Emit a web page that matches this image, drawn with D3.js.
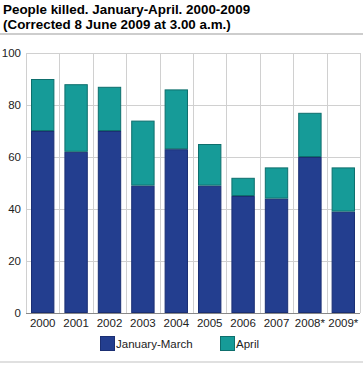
<!DOCTYPE html>
<html><head><meta charset="utf-8">
<script src="https://cdn.jsdelivr.net/npm/d3@7"></script>
<style>body{margin:0;background:#fff}svg{display:block;font-family:"Liberation Sans",Arial,sans-serif}</style>
</head><body><svg id="c" width="363" height="365"></svg>
<script>
const categories = ["2000","2001","2002","2003","2004","2005","2006","2007","2008*","2009*"];
const janMarch = [70,62,70,49,63,49,45,44,60,39];
const april = [20,26,17,25,23,16,7,12,17,17];
const yTicks = [0,20,40,60,80,100];
const seriesNames = ["January-March","April"];
const colors = ["#233e8f","#169b98"];
const strokes = ["#1b2f73","#0e6f6d"];

const svg = d3.select("#c");
const m = {l:26, r:3, t:53, b:52};
const W = 363, H = 365;
const x = d3.scaleBand().domain(categories).range([m.l, W-m.r]).paddingInner(0.3).paddingOuter(0.15);
const y = d3.scaleLinear().domain([0,100]).range([H-m.b, m.t]);

// title
svg.append("text").attr("x",3).attr("y",14).attr("font-size",13.4).attr("font-weight","bold").attr("fill","#000").text("People killed. January-April. 2000-2009");
svg.append("text").attr("x",3).attr("y",29).attr("font-size",13.4).attr("font-weight","bold").attr("fill","#000").text("(Corrected 8 June 2009 at 3.00 a.m.)");
svg.append("line").attr("x1",0).attr("x2",363).attr("y1",34).attr("y2",34).attr("stroke","#bdbdbd").attr("stroke-width",1.5);

// grid
const grid = svg.append("g");
yTicks.forEach(t=>{
  grid.append("line").attr("x1",m.l).attr("x2",W-m.r).attr("y1",Math.round(y(t))+0.5).attr("y2",Math.round(y(t))+0.5).attr("stroke","#d0d0d0");
});
for(let i=0;i<=categories.length;i++){
  const xx = Math.round(m.l + i*(W-m.r-m.l)/categories.length)+0.5;
  grid.append("line").attr("x1",xx).attr("x2",xx).attr("y1",m.t).attr("y2",H-m.b).attr("stroke","#d0d0d0");
}

// bars
const stackData = categories.map((c,i)=>({cat:c, a:janMarch[i], b:april[i]}));
const stack = d3.stack().keys(["a","b"])(stackData);
stack.forEach((s,si)=>{
  svg.append("g").selectAll("rect").data(s).join("rect")
    .attr("x",d=>x(d.data.cat)+0.5)
    .attr("width",x.bandwidth()-1)
    .attr("y",d=>y(d[1])+0.5)
    .attr("height",d=>y(d[0])-y(d[1])-1)
    .attr("fill",colors[si])
    .attr("stroke",strokes[si]).attr("stroke-width",1);
});

// axes
const yAxis = d3.axisLeft(y).tickValues(yTicks).tickSize(0).tickPadding(5);
const gy = svg.append("g").attr("transform",`translate(${m.l},0)`).call(yAxis);
gy.select(".domain").remove();
gy.selectAll("text").attr("font-size",11.5).attr("fill","#222").attr("font-family","'Liberation Sans',Arial,sans-serif");
const xAxis = d3.axisBottom(x).tickSize(0).tickPadding(6);
const gx = svg.append("g").attr("transform",`translate(0,${H-m.b})`).call(xAxis);
gx.select(".domain").remove();
gx.selectAll("text").attr("font-size",11.5).attr("fill","#222").attr("font-family","'Liberation Sans',Arial,sans-serif");
svg.append("line").attr("x1",m.l).attr("x2",W-m.r).attr("y1",H-m.b+0.5).attr("y2",H-m.b+0.5).attr("stroke","#888");

// legend
const leg = [{x:100},{x:220}];
seriesNames.forEach((n,i)=>{
  svg.append("rect").attr("x",leg[i].x+0.5).attr("y",336.5).attr("width",14).attr("height",14).attr("fill",colors[i]).attr("stroke",strokes[i]);
  svg.append("text").attr("x",leg[i].x+16).attr("y",348).attr("font-size",11.5).attr("fill","#222").text(n);
});
svg.append("line").attr("x1",0).attr("x2",363).attr("y1",362).attr("y2",362).attr("stroke","#e0e0e0").attr("stroke-width",2);
</script></body></html>
